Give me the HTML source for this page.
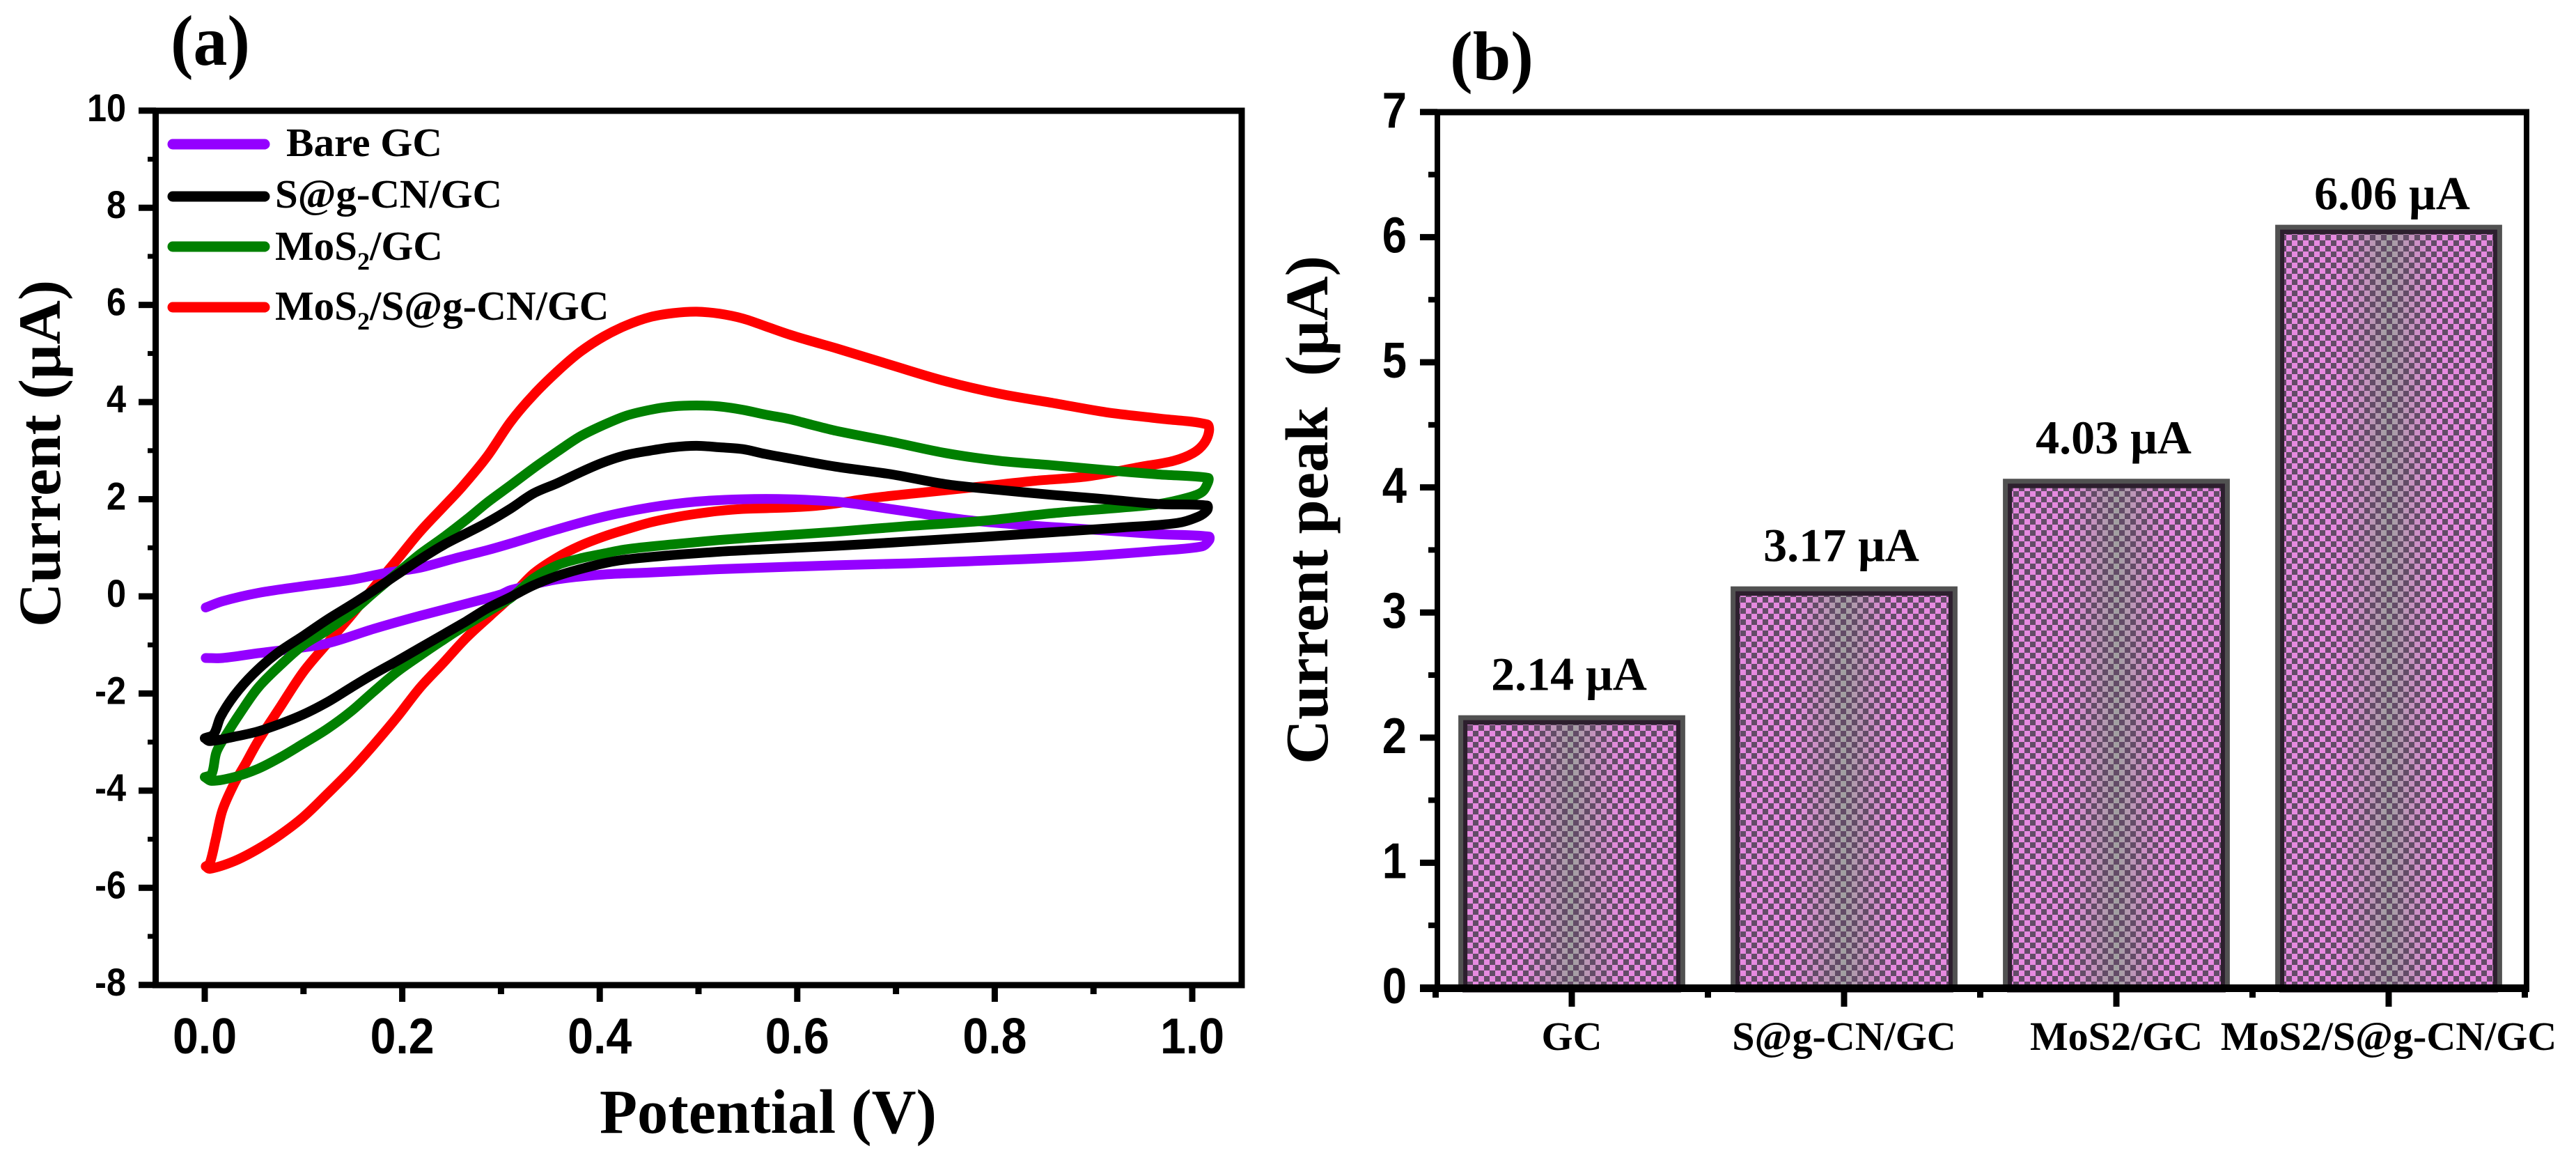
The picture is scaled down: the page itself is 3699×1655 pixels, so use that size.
<!DOCTYPE html>
<html lang="en">
<head>
<meta charset="utf-8">
<title>Cyclic voltammetry and current peak comparison</title>
<style>
html,body{margin:0;padding:0;background:#fff;}
svg{display:block;}
text{fill:#000;}
.serif{font-family:"Liberation Serif","DejaVu Serif",serif;font-weight:bold;}
.sans{font-family:"Liberation Sans","DejaVu Sans",sans-serif;font-weight:bold;}
</style>
</head>
<body>
<svg id="figure" xmlns="http://www.w3.org/2000/svg" width="3699" height="1655" viewBox="0 0 3699 1655">
  <defs>
    <pattern id="checker" patternUnits="userSpaceOnUse" width="16" height="16" patternTransform="translate(11,1)">
      <rect x="0" y="0" width="8" height="8" fill="#634c67"/>
      <rect x="8" y="8" width="8" height="8" fill="#634c67"/>
    </pattern>
    <linearGradient id="barBase" x1="0" x2="1" y1="0" y2="0">
      <stop offset="0" stop-color="#e68ae0"/>
      <stop offset="0.28" stop-color="#e68ae0"/>
      <stop offset="0.4" stop-color="#c492bd"/>
      <stop offset="0.5" stop-color="#a0a0a0"/>
      <stop offset="0.6" stop-color="#c492bd"/>
      <stop offset="0.72" stop-color="#e68ae0"/>
      <stop offset="1" stop-color="#e68ae0"/>
    </linearGradient>
  </defs>
  <rect x="0" y="0" width="3699" height="1655" fill="#fff"/>

  <!-- Panel a static parts -->
  <g id="panelA">
    <text class="serif" x="245" y="93" font-size="103" textLength="114" lengthAdjust="spacingAndGlyphs">(a)</text>
    <g id="curvesA"></g>
    <rect x="223.5" y="159" width="1559.5" height="1255" fill="none" stroke="#000" stroke-width="9"/>
    <g id="ticksA"></g>
    <text class="serif" transform="translate(86,900) rotate(-90)" font-size="86" textLength="498" lengthAdjust="spacingAndGlyphs">Current (μA)</text>
    <text class="serif" x="861" y="1626" font-size="90" textLength="484" lengthAdjust="spacingAndGlyphs">Potential (V)</text>
    <g>
      <g>
        <line x1="248" y1="207" x2="380" y2="207" stroke="#9400ff" stroke-width="15" stroke-linecap="round"/>
        <text class="serif" x="411" y="224" font-size="58" textLength="224" lengthAdjust="spacingAndGlyphs">Bare GC</text>
      </g>
      <g>
        <line x1="248" y1="282" x2="380" y2="282" stroke="#000" stroke-width="15" stroke-linecap="round"/>
        <text class="serif" x="395" y="298" font-size="58" textLength="326" lengthAdjust="spacingAndGlyphs">S@g-CN/GC</text>
      </g>
      <g>
        <line x1="248" y1="354" x2="380" y2="354" stroke="#008000" stroke-width="15" stroke-linecap="round"/>
        <text class="serif" x="395" y="373" font-size="59">MoS<tspan dy="14" font-size="36">2</tspan><tspan dy="-14">/GC</tspan></text>
      </g>
      <g>
        <line x1="248" y1="441" x2="380" y2="441" stroke="#ff0000" stroke-width="15" stroke-linecap="round"/>
        <text class="serif" x="395" y="459" font-size="59">MoS<tspan dy="14" font-size="36">2</tspan><tspan dy="-14">/S@g-CN/GC</tspan></text>
      </g>
    </g>
  </g>

  <!-- Panel b static parts -->
  <g id="panelB">
    <text class="serif" x="2082" y="114" font-size="100" textLength="120" lengthAdjust="spacingAndGlyphs">(b)</text>
    <g id="barsB"></g>
    <rect x="2060" y="156.5" width="1572" height="9" fill="#000"/>
    <rect x="2060" y="157" width="8" height="1261" fill="#000"/>
    <rect x="3624" y="157" width="8" height="1261" fill="#000"/>
    <rect x="2039" y="1413" width="1593" height="11" fill="#000"/>
    <g id="ticksB"></g>
    <text class="serif" transform="translate(1906,1097) rotate(-90)" font-size="87" textLength="730" lengthAdjust="spacingAndGlyphs">Current peak&#160;&#160;(μA)</text>
  </g>
</svg>

<script>
// ---- Panel (a) data: potential (V) and current (µA), in scan order ----
const redPotential = [0.001,0.005,0.03,0.054,0.077,0.1,0.124,0.148,0.171,0.195,0.218,0.242,0.265,0.289,0.31,0.333,0.357,0.38,0.404,0.427,0.451,0.474,0.498,0.521,0.545,0.592,0.627,0.678,0.733,0.786,0.841,0.894,0.949,0.981,1.001,1.012,1.017,1.015,0.967,0.913,0.859,0.805,0.75,0.697,0.639,0.615,0.592,0.568,0.545,0.521,0.498,0.474,0.451,0.427,0.404,0.38,0.357,0.333,0.31,0.286,0.26,0.242,0.218,0.195,0.171,0.148,0.124,0.1,0.077,0.054,0.042,0.03,0.018,0.011,0.005,0.001];
const redCurrent = [-5.56,-5.61,-5.45,-5.2,-4.9,-4.54,-4.07,-3.58,-3.06,-2.48,-1.88,-1.36,-0.85,-0.4,-0.01,0.47,0.8,1.04,1.23,1.38,1.52,1.62,1.7,1.76,1.8,1.83,1.88,2.03,2.15,2.26,2.38,2.47,2.67,2.79,2.95,3.15,3.4,3.54,3.66,3.79,3.98,4.17,4.43,4.75,5.11,5.25,5.39,5.56,5.72,5.82,5.86,5.83,5.75,5.58,5.35,5.03,4.63,4.15,3.6,2.88,2.24,1.85,1.33,0.76,0.18,-0.4,-0.97,-1.55,-2.26,-2.98,-3.42,-3.85,-4.4,-5.01,-5.5,-5.56];

const greenPotential = [0,0.007,0.03,0.054,0.077,0.1,0.124,0.148,0.171,0.195,0.218,0.242,0.265,0.289,0.31,0.333,0.357,0.38,0.404,0.427,0.474,0.521,0.568,0.639,0.714,0.786,0.858,0.93,0.966,0.995,1.01,1.016,1.016,0.966,0.912,0.858,0.805,0.75,0.696,0.639,0.615,0.592,0.568,0.545,0.521,0.498,0.474,0.451,0.427,0.404,0.38,0.357,0.333,0.31,0.286,0.265,0.242,0.218,0.195,0.171,0.148,0.124,0.1,0.077,0.054,0.035,0.023,0.012,0.007,0];
const greenCurrent = [-3.72,-3.8,-3.72,-3.55,-3.31,-3.03,-2.73,-2.37,-1.96,-1.55,-1.22,-0.89,-0.59,-0.29,-0.03,0.37,0.64,0.78,0.88,0.97,1.07,1.16,1.23,1.33,1.45,1.55,1.71,1.83,1.9,2.03,2.15,2.35,2.44,2.51,2.6,2.7,2.79,2.95,3.18,3.41,3.53,3.65,3.74,3.84,3.91,3.93,3.91,3.84,3.72,3.53,3.29,2.98,2.64,2.29,1.93,1.58,1.22,0.87,0.48,0.07,-0.34,-0.7,-1,-1.41,-1.88,-2.43,-2.81,-3.2,-3.66,-3.72];

const blackPotential = [0,0.005,0.03,0.054,0.077,0.1,0.124,0.148,0.171,0.195,0.218,0.242,0.265,0.286,0.31,0.333,0.357,0.38,0.404,0.427,0.474,0.521,0.568,0.639,0.714,0.786,0.858,0.93,0.985,1.006,1.015,1.015,0.966,0.912,0.858,0.805,0.75,0.696,0.639,0.592,0.568,0.545,0.521,0.498,0.474,0.451,0.427,0.404,0.38,0.357,0.333,0.31,0.286,0.265,0.242,0.218,0.195,0.171,0.148,0.124,0.1,0.072,0.049,0.03,0.016,0.009,0];
const blackCurrent = [-2.92,-2.98,-2.89,-2.78,-2.62,-2.43,-2.18,-1.88,-1.6,-1.33,-1.06,-0.78,-0.51,-0.25,-0.01,0.23,0.42,0.56,0.68,0.76,0.85,0.92,0.97,1.04,1.13,1.22,1.32,1.42,1.51,1.64,1.77,1.87,1.9,2,2.09,2.19,2.31,2.51,2.67,2.84,2.93,3.03,3.07,3.1,3.07,3,2.91,2.76,2.55,2.33,2.12,1.81,1.52,1.3,1.06,0.76,0.45,0.12,-0.18,-0.48,-0.81,-1.19,-1.6,-2.04,-2.48,-2.84,-2.92];

const purplePotential = [0.001,0.018,0.054,0.089,0.124,0.171,0.218,0.265,0.3,0.31,0.357,0.404,0.451,0.521,0.592,0.639,0.714,0.822,0.894,0.966,1.01,1.017,1.017,0.966,0.894,0.822,0.768,0.714,0.66,0.639,0.592,0.545,0.498,0.451,0.404,0.357,0.31,0.286,0.253,0.218,0.183,0.148,0.1,0.054,0.018,0.001];
const purpleCurrent = [-1.27,-1.27,-1.17,-1.08,-0.97,-0.67,-0.4,-0.15,0.04,0.13,0.35,0.45,0.49,0.56,0.61,0.64,0.68,0.76,0.83,0.94,1.03,1.15,1.23,1.28,1.38,1.48,1.58,1.74,1.9,1.95,2,2,1.95,1.83,1.64,1.38,1.09,0.95,0.78,0.59,0.48,0.34,0.21,0.07,-0.1,-0.23];

const xTicksA = ["0.0","0.2","0.4","0.6","0.8","1.0"];
const xMinorTicksA = [0.1,0.3,0.5,0.7,0.9];
const yTicksA = [-8,-6,-4,-2,0,2,4,6,8,10];
const yMinorTicksA = [-7,-5,-3,-1,1,3,5,7,9];

// ---- Panel (b) data ----
const barCategories = ["GC","S@g-CN/GC","MoS2/GC","MoS2/S@g-CN/GC"];
const barValues = [2.14,3.17,4.03,6.06];
const barLabels = ["2.14 μA","3.17 μA","4.03 μA","6.06 μA"];
const yTicksB = [0,1,2,3,4,5,6,7];
const yMinorTicksB = [0.5,1.5,2.5,3.5,4.5,5.5,6.5];
const xMinorTicksB = [0.5,1.5,2.5,3.5,4.5];

// ---- Axis functions ----
const xA = v => 294 + 1418 * v;
const yA = v => 856 - 69.72 * v;
const xB = v => 2257 + 391 * (v - 1);
const yB = v => 1418 - 179.6 * v;

const NS = 'http://www.w3.org/2000/svg';
const make = (tag, parent, props) => {
  const node = document.createElementNS(NS, tag);
  Object.keys(props).forEach(k => node.setAttribute(k, props[k]));
  parent.appendChild(node);
  return node;
};

// Smooth curve with tangents scaled by segment length, so that sharp scan reversals don't overshoot
function smoothPath(pts) {
  const dist = (a, b) => Math.hypot(a[0] - b[0], a[1] - b[1]) || 1;
  const tangent = i => {
    const a = pts[Math.max(i - 1, 0)], b = pts[Math.min(i + 1, pts.length - 1)];
    const p = pts[i];
    const len = dist(a, p) + dist(p, b);
    return [(b[0] - a[0]) / len, (b[1] - a[1]) / len];
  };
  let d = 'M' + pts[0][0].toFixed(1) + ' ' + pts[0][1].toFixed(1);
  for (let i = 0; i < pts.length - 1; i++) {
    const p1 = pts[i], p2 = pts[i + 1];
    const h = dist(p1, p2) / 3;
    const t1 = tangent(i), t2 = tangent(i + 1);
    d += 'C' + (p1[0] + t1[0] * h).toFixed(1) + ' ' + (p1[1] + t1[1] * h).toFixed(1) + ' ' + (p2[0] - t2[0] * h).toFixed(1) + ' ' + (p2[1] - t2[1] * h).toFixed(1) + ' ' + p2[0].toFixed(1) + ' ' + p2[1].toFixed(1);
  }
  return d;
}
const toPts = (vs, is) => vs.map((v, i) => [xA(v), yA(is[i])]);
const curveStyle = {fill:'none','stroke-width':14,'stroke-linejoin':'round','stroke-linecap':'round'};

// ---- Panel (a) curves (bottom to top) ----
const curvesA = document.getElementById('curvesA');

const redCurve = make('path', curvesA, Object.assign({d:smoothPath(toPts(redPotential, redCurrent)), stroke:'#ff0000'}, curveStyle));



const purpleCurve = make('path', curvesA, Object.assign({d:smoothPath(toPts(purplePotential, purpleCurrent)), stroke:'#9400ff'}, curveStyle));



const greenCurve = make('path', curvesA, Object.assign({d:smoothPath(toPts(greenPotential, greenCurrent)), stroke:'#008000'}, curveStyle));



const blackCurve = make('path', curvesA, Object.assign({d:smoothPath(toPts(blackPotential, blackCurrent)), stroke:'#000000'}, curveStyle));



// ---- Panel (a) ticks ----
const ticksA = document.getElementById('ticksA');
yTicksA.forEach(v => {
  const tick = make('rect', ticksA, {x:199, y:yA(v) - 4.5, width:25, height:9, fill:'#000'});
  
  
  const label = make('text', ticksA, {class:'sans', 'font-size':56, 'text-anchor':'end', transform:'translate(181,' + (yA(v) + 15) + ') scale(0.9,1)'});
  label.textContent = String(v);
  
  
});
yMinorTicksA.forEach(v => {
  const tick = make('rect', ticksA, {x:212, y:yA(v) - 3.5, width:12, height:7, fill:'#000'});
  
  
});
xTicksA.forEach(t => {
  const v = parseFloat(t);
  const tick = make('rect', ticksA, {x:xA(v) - 4.5, y:1414, width:9, height:24, fill:'#000'});
  
  
  const label = make('text', ticksA, {class:'sans', 'font-size':72, 'text-anchor':'middle', transform:'translate(' + xA(v) + ',1512) scale(0.92,1)'});
  label.textContent = t;
  
  
});
xMinorTicksA.forEach(v => {
  const tick = make('rect', ticksA, {x:xA(v) - 4.5, y:1414, width:9, height:13, fill:'#000'});
  
  
});

// ---- Panel (b) bars ----
const barsB = document.getElementById('barsB');
const barHalf = 0.4;
const labelLift = v => v > 5 ? 29 : 43;
const labelShift = v => v > 5 ? 5 : -4;
barValues.forEach((v, i) => {
  const cx = xB(i + 1), left = xB(i + 1 - barHalf), right = xB(i + 1 + barHalf), top = yB(v), base = yB(0);
  const fill = make('rect', barsB, {x:left, y:top, width:right - left, height:base - top, fill:'url(#barBase)'});
  
  
  const check = make('rect', barsB, {x:left, y:top, width:right - left, height:base - top, fill:'url(#checker)'});
  
  
  const inner = make('rect', barsB, {x:left + 3, y:top + 3, width:right - left - 6, height:base - top, fill:'none', stroke:'#2d1f2e', 'stroke-width':7});
  
  
  const outer = make('rect', barsB, {x:left - 3, y:top - 3.5, width:right - left + 6, height:base - top + 3.5, fill:'none', stroke:'#515151', 'stroke-width':7});
  
  
  const label = make('text', barsB, {class:'serif', x:cx + labelShift(v), y:top - labelLift(v), 'font-size':68, 'text-anchor':'middle'});
  label.textContent = barLabels[i];
  
  
});

// ---- Panel (b) ticks ----
const ticksB = document.getElementById('ticksB');
yTicksB.forEach(v => {
  const tick = make('rect', ticksB, {x:2039, y:yB(v) - 4.5, width:25, height:9, fill:'#000'});
  
  
  const label = make('text', ticksB, {class:'sans', 'font-size':72, 'text-anchor':'end', transform:'translate(2020,' + (yB(v) + 22) + ') scale(0.88,1)'});
  label.textContent = String(v);
  
  
});
yMinorTicksB.forEach(v => {
  const tick = make('rect', ticksB, {x:2051, y:yB(v) - 4, width:13, height:8, fill:'#000'});
  
  
});
barCategories.forEach((c, i) => {
  const cx = xB(i + 1);
  const tick = make('rect', ticksB, {x:cx - 4.5, y:1418, width:9, height:27, fill:'#000'});
  
  
  const label = make('text', ticksB, {class:'serif', x:cx, y:1507, 'font-size':58, 'text-anchor':'middle'});
  label.textContent = c;
  
  
});
xMinorTicksB.forEach(v => {
  const tick = make('rect', ticksB, {x:xB(v) - 4.5, y:1418, width:9, height:14, fill:'#000'});
  
  
});
</script>
</body>
</html>
